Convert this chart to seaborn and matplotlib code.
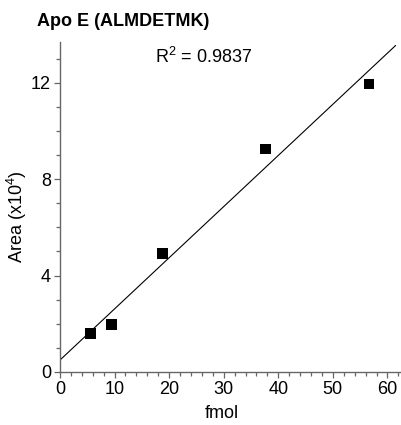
import numpy as np
import pandas as pd
import matplotlib
matplotlib.use("Agg")
import matplotlib.pyplot as plt
from matplotlib.ticker import MultipleLocator
import seaborn as sns

# data
fmol = [5.6, 9.5, 18.8, 37.6, 56.6]
area = [1.59, 1.96, 4.91, 9.25, 11.95]
r2_label = "R$^2$ = 0.9837"
title = "Apo E (ALMDETMK)"
xlabel = "fmol"
ylabel = "Area (x10$^4$)"

df = pd.DataFrame({"fmol": fmol, "area": area})

sns.set_theme(style="ticks")
plt.rcParams["font.family"] = ["Liberation Sans", "DejaVu Sans"]
plt.rcParams["mathtext.fontset"] = "custom"
plt.rcParams["mathtext.rm"] = "Liberation Sans"
plt.rcParams["mathtext.it"] = "Liberation Sans:italic"
plt.rcParams["mathtext.bf"] = "Liberation Sans:bold"

fig = plt.figure(figsize=(4.02, 4.25), dpi=100)
ax = fig.add_axes([60 / 402, 1 - 372 / 425, 340 / 402, (372 - 41.7) / 425])

ax.set_xlim(0, 61.5)
sns.regplot(data=df, x="fmol", y="area", ax=ax, ci=None, truncate=False,
            marker="s",
            scatter_kws=dict(s=60, color="black", alpha=1, edgecolors="none",
                             zorder=3),
            line_kws=dict(color="black", lw=0.8))
ax.set_xlim(0, 62.3)
ax.set_ylim(0, 13.7)

ax.xaxis.set_major_locator(MultipleLocator(10))
ax.xaxis.set_minor_locator(MultipleLocator(2))
ax.yaxis.set_major_locator(MultipleLocator(4))
ax.yaxis.set_minor_locator(MultipleLocator(1))

for s in ["top", "right"]:
    ax.spines[s].set_visible(False)
for s in ["left", "bottom"]:
    ax.spines[s].set_color("#666666")
    ax.spines[s].set_linewidth(1.0)

ax.tick_params(which="major", direction="out", length=4.5, width=0.9,
               color="#666666", labelsize=13, labelcolor="black", pad=2)
ax.tick_params(which="minor", direction="out", length=3.2, width=0.9,
               color="#666666")

ax.set_xlabel(xlabel, fontsize=13, color="black")
ax.set_ylabel(ylabel, fontsize=13, color="black")
ax.xaxis.set_label_coords(0.476, -0.1)
ax.yaxis.set_label_coords(-0.09, 0.47)

fig.text(37 / 402, 1 - 26 / 425, title, fontsize=13, fontweight="bold",
         ha="left", va="baseline", color="black")

fig.text(155 / 402, 1 - 62.7 / 425, r2_label, fontsize=13, ha="left",
         va="baseline", color="black")

fig.savefig("out.png", dpi=100)
